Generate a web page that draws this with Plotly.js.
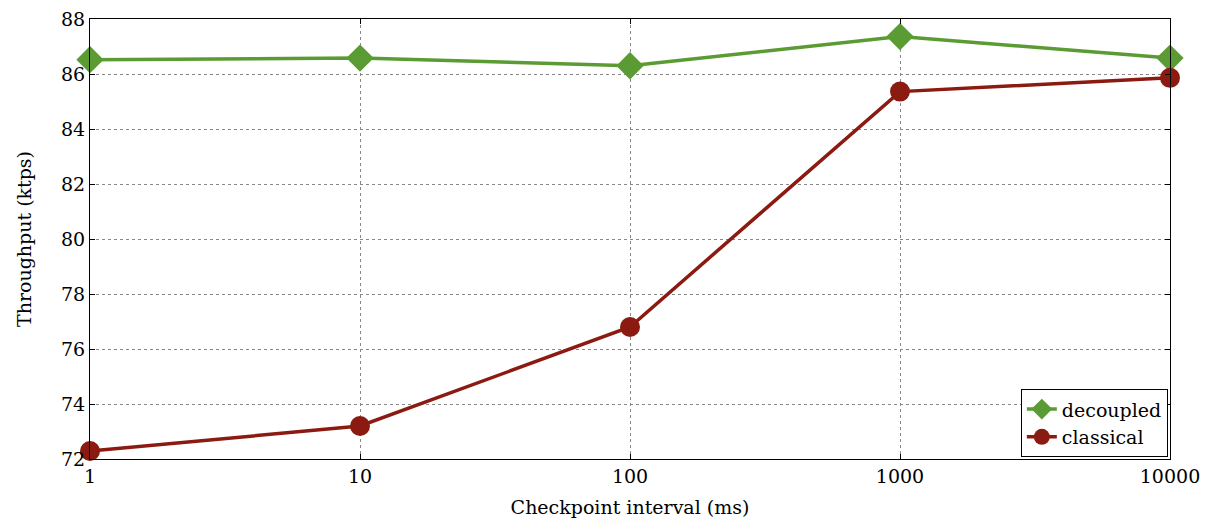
<!DOCTYPE html>
<html><head><meta charset="utf-8">
<script src="https://cdn.plot.ly/plotly-3.0.1.min.js"></script>
<style>body{margin:0;padding:0;background:#fff}#chart{width:1209px;height:521px}</style>
</head><body><div id="chart"></div>
<script>
const intervals = [1, 10, 100, 1000, 10000];
const tickLabels = ['1', '10', '100', '1000', '10000'];
const decoupled = [86.52, 86.58, 86.30, 87.36, 86.58];
const classical = [72.29, 73.20, 76.80, 85.36, 85.86];
const yTicks = [72, 74, 76, 78, 80, 82, 84, 86, 88];

const font = {family: 'DejaVu Serif, Liberation Serif, serif', size: 19, color: '#000'};
const traces = [
  {x: intervals, y: decoupled, name: 'decoupled', mode: 'lines+markers', type: 'scatter', cliponaxis: false,
   line: {color: '#5b9b33', width: 3.5}, marker: {symbol: 'diamond', size: 21, color: '#5b9b33'}},
  {x: intervals, y: classical, name: 'classical', mode: 'lines+markers', type: 'scatter', cliponaxis: false,
   line: {color: '#8b1a10', width: 3.5}, marker: {symbol: 'circle', size: 20, color: '#8b1a10'}}
];
const axisCommon = {showline: true, linecolor: '#000', linewidth: 1, mirror: 'ticks', ticks: 'inside',
  ticklen: 5, tickcolor: '#000', showgrid: true, gridcolor: '#888', griddash: 'dot', gridwidth: 1,
  zeroline: false, tickfont: font};
const layout = {
  width: 1209, height: 521, margin: {l: 90, r: 39, t: 19, b: 62},
  paper_bgcolor: '#fff', plot_bgcolor: '#fff', font: font,
  xaxis: Object.assign({}, axisCommon, {type: 'log', range: [0, 4], tickvals: intervals, ticktext: tickLabels,
    title: {text: 'Checkpoint interval (ms)', font: font, standoff: 14}}),
  yaxis: Object.assign({}, axisCommon, {range: [72, 88], tickvals: yTicks,
    title: {text: 'Throughput (ktps)', font: font, standoff: 24}}),
  legend: {x: 0.998, y: 0.004, xanchor: 'right', yanchor: 'bottom', bordercolor: '#000', borderwidth: 1,
    bgcolor: '#fff', font: font, tracegroupgap: 0, itemwidth: 30},
  showlegend: true
};
Plotly.newPlot('chart', traces, layout, {displayModeBar: false});
</script></body></html>
